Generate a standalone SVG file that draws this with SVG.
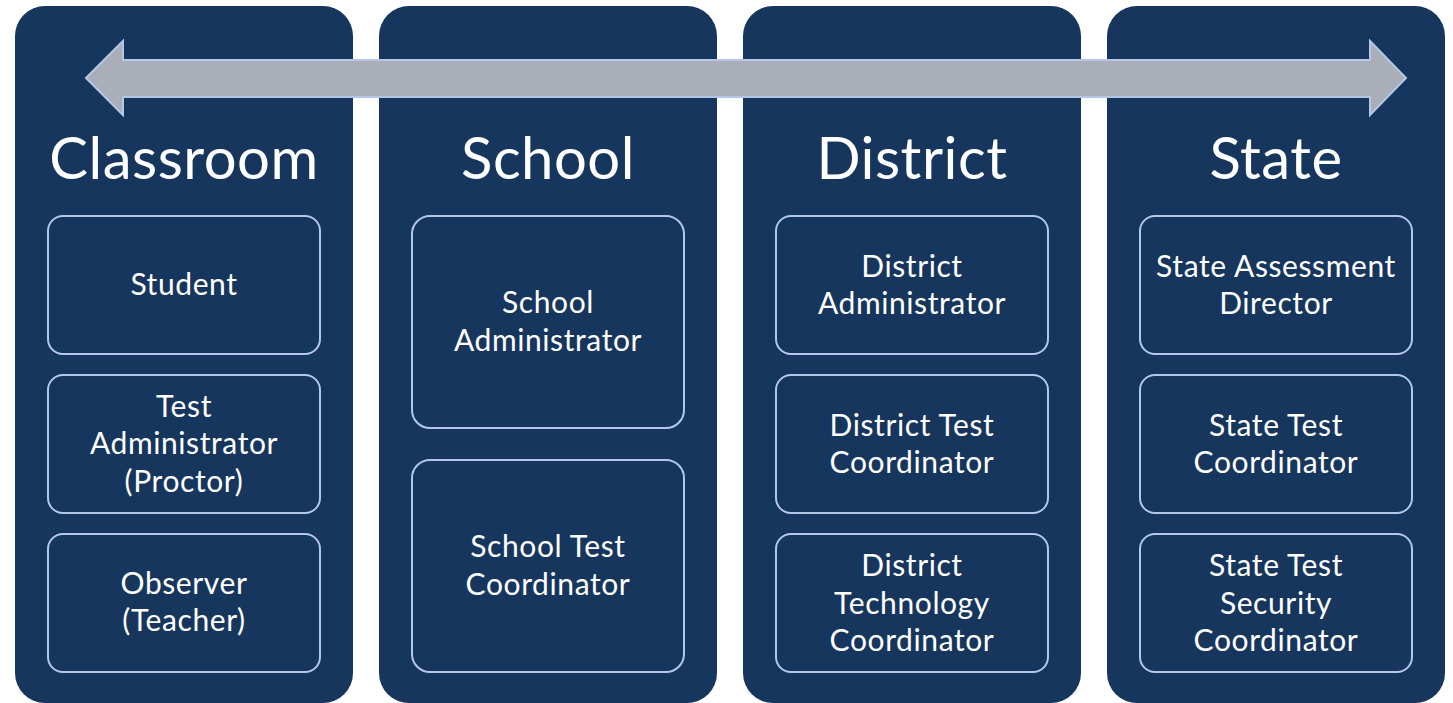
<svg xmlns="http://www.w3.org/2000/svg" width="1453" height="703" viewBox="0 0 1453 703">
<style>
.col{fill:#17365D;}
.box{fill:#17365D;stroke:#B4C7E7;stroke-width:2;}
.title{font-family:Lato,"Liberation Sans",sans-serif;font-size:58px;fill:#FFFFFF;text-anchor:middle;letter-spacing:0.5px;}
.lbl{font-family:Lato,"Liberation Sans",sans-serif;font-size:30px;fill:#FFFFFF;text-anchor:middle;letter-spacing:0.6px;}
.arrow{fill:#A9AEB8;stroke:#B4C7E7;stroke-width:2;}
</style>
<rect width="1453" height="703" fill="#FFFFFF"/>
<g id="col-classroom">
<rect class="col" x="15" y="6" width="338" height="697" rx="30"/>
<text class="title" x="184" y="179">Classroom</text>
</g>
<g id="col-school">
<rect class="col" x="379" y="6" width="338" height="697" rx="30"/>
<text class="title" x="548" y="179">School</text>
</g>
<g id="col-district">
<rect class="col" x="743" y="6" width="338" height="697" rx="30"/>
<text class="title" x="912" y="179">District</text>
</g>
<g id="col-state">
<rect class="col" x="1107" y="6" width="338" height="697" rx="30"/>
<text class="title" x="1276" y="179">State</text>
</g>
<g id="connectors">
<polygon class="arrow" points="86,78 123,41 123,60 1370,60 1370,41 1406,78 1370,115 1370,97 123,97 123,115"/>
</g>
<g id="student"><rect class="box" x="48" y="216" width="272" height="138" rx="15"/><text class="lbl" x="184" y="295">Student</text></g>
<g id="test-administrator"><rect class="box" x="48" y="375" width="272" height="138" rx="15"/><text class="lbl" x="184" y="417">Test</text><text class="lbl" x="184" y="454">Administrator</text><text class="lbl" x="184" y="492">(Proctor)</text></g>
<g id="observer"><rect class="box" x="48" y="534" width="272" height="138" rx="15"/><text class="lbl" x="184" y="594">Observer</text><text class="lbl" x="184" y="631">(Teacher)</text></g>
<g id="school-administrator"><rect class="box" x="412" y="216" width="272" height="212" rx="18"/><text class="lbl" x="548" y="313">School</text><text class="lbl" x="548" y="351">Administrator</text></g>
<g id="school-test-coordinator"><rect class="box" x="412" y="460" width="272" height="212" rx="18"/><text class="lbl" x="548" y="557">School Test</text><text class="lbl" x="548" y="595">Coordinator</text></g>
<g id="district-administrator"><rect class="box" x="776" y="216" width="272" height="138" rx="15"/><text class="lbl" x="912" y="277">District</text><text class="lbl" x="912" y="314">Administrator</text></g>
<g id="district-test-coordinator"><rect class="box" x="776" y="375" width="272" height="138" rx="15"/><text class="lbl" x="912" y="436">District Test</text><text class="lbl" x="912" y="473">Coordinator</text></g>
<g id="district-technology-coordinator"><rect class="box" x="776" y="534" width="272" height="138" rx="15"/><text class="lbl" x="912" y="576">District</text><text class="lbl" x="912" y="614">Technology</text><text class="lbl" x="912" y="651">Coordinator</text></g>
<g id="state-assessment-director"><rect class="box" x="1140" y="216" width="272" height="138" rx="15"/><text class="lbl" x="1276" y="277">State Assessment</text><text class="lbl" x="1276" y="314">Director</text></g>
<g id="state-test-coordinator"><rect class="box" x="1140" y="375" width="272" height="138" rx="15"/><text class="lbl" x="1276" y="436">State Test</text><text class="lbl" x="1276" y="473">Coordinator</text></g>
<g id="state-test-security-coordinator"><rect class="box" x="1140" y="534" width="272" height="138" rx="15"/><text class="lbl" x="1276" y="576">State Test</text><text class="lbl" x="1276" y="614">Security</text><text class="lbl" x="1276" y="651">Coordinator</text></g>
</svg>
